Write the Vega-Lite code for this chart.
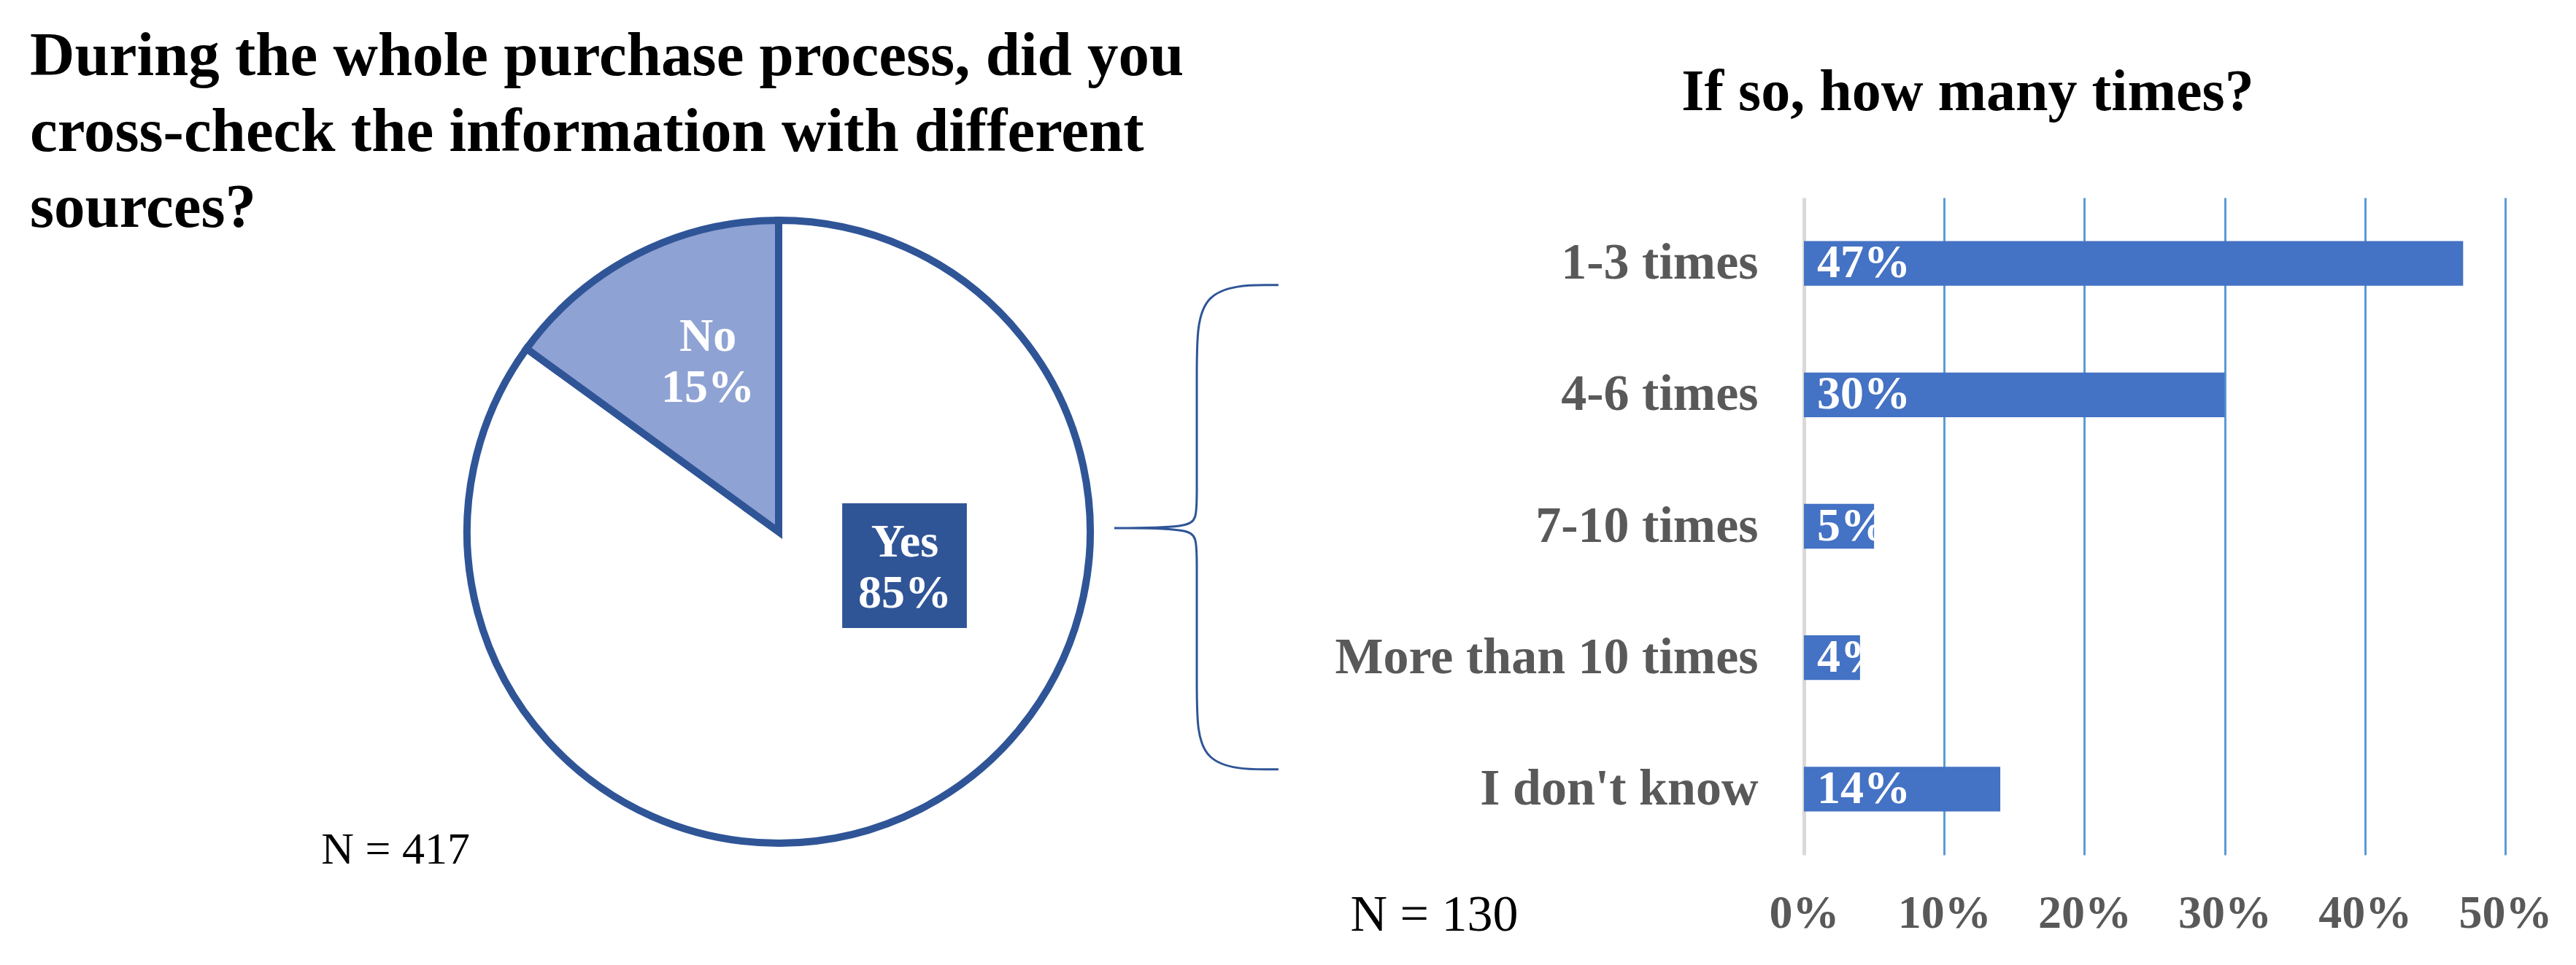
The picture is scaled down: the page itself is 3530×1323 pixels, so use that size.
{
  "$schema": "https://vega.github.io/schema/vega-lite/v6.json",
  "padding": {"left": 41, "top": 35, "right": 10, "bottom": 10},
  "background": "white",
  "config": {"font": "Liberation Serif", "view": {"stroke": null}},
  "spacing": 379,
  "bounds": "flush",
  "datasets": {
    "pie": [{"answer": "Yes", "share": 0.85}, {"answer": "No", "share": 0.15}],
    "bars": [
      {"times": "1-3 times", "share": 0.47},
      {"times": "4-6 times", "share": 0.30},
      {"times": "7-10 times", "share": 0.05},
      {"times": "More than 10 times", "share": 0.04},
      {"times": "I don't know", "share": 0.14}
    ],
    "brace": [
      {"k": 0, "bx": 1.604, "by": 0.792},
      {"k": 1, "bx": 1.342, "by": 0.792},
      {"k": 2, "bx": 1.342, "by": 0.534},
      {"k": 3, "bx": 1.342, "by": 0.066},
      {"k": 4, "bx": 1.342, "by": 0.012},
      {"k": 5, "bx": 1.077, "by": 0.012},
      {"k": 6, "bx": 1.077, "by": 0.012},
      {"k": 7, "bx": 1.077, "by": 0.012},
      {"k": 8, "bx": 1.342, "by": 0.012},
      {"k": 9, "bx": 1.342, "by": -0.042},
      {"k": 10, "bx": 1.342, "by": -0.520},
      {"k": 11, "bx": 1.342, "by": -0.763},
      {"k": 12, "bx": 1.604, "by": -0.763}
    ],
    "notes": [{"note": "N = 417"}]
  },
  "hconcat": [
    {
      "width": 2052,
      "height": 916,
      "title": {
        "text": ["During the whole purchase process, did you", "cross-check the information with different", "sources?"],
        "anchor": "start",
        "frame": "group",
        "fontSize": 85,
        "fontWeight": "bold",
        "lineHeight": 104,
        "baseline": "alphabetic",
        "offset": -125,
        "color": "black",
        "font": "Liberation Serif"
      },
      "layer": [
        {
          "data": {"name": "pie"},
          "mark": {"type": "arc", "radius": 427, "stroke": "#2F5597", "strokeWidth": 10},
          "encoding": {
            "theta": {"field": "share", "type": "quantitative", "stack": true},
            "order": {"field": "answer", "type": "ordinal", "sort": "descending"},
            "color": {"field": "answer", "type": "nominal", "scale": {"domain": ["Yes", "No"], "range": ["#FFFFFF", "#8FA2D4"]}, "legend": null}
          }
        },
        {
          "data": {"name": "brace"},
          "mark": {"type": "line", "interpolate": "basis", "stroke": "#2F5597", "strokeWidth": 3},
          "encoding": {
            "x": {"field": "bx", "type": "quantitative", "scale": {"domain": [-2.4028, 2.4028], "nice": false, "zero": false}, "axis": null},
            "y": {"field": "by", "type": "quantitative", "scale": {"domain": [-1.0726, 1.0726], "nice": false, "zero": false}, "axis": null},
            "order": {"field": "k", "type": "quantitative"}
          }
        },
        {
          "data": {"name": "pie"},
          "transform": [{"filter": "datum.answer === 'Yes'"}],
          "mark": {"type": "rect", "fill": "#2F5597"},
          "encoding": {
            "x": {"datum": 0.204, "type": "quantitative"},
            "x2": {"datum": 0.604},
            "y": {"datum": 0.0913, "type": "quantitative"},
            "y2": {"datum": -0.309}
          }
        },
        {
          "data": {"name": "pie"},
          "transform": [
            {"filter": "datum.answer === 'Yes'"},
            {"calculate": "[datum.answer, format(datum.share, '.0%')]", "as": "label"}
          ],
          "mark": {"type": "text", "color": "white", "fontSize": 64, "fontWeight": "bold", "lineHeight": 70, "align": "center", "baseline": "alphabetic"},
          "encoding": {
            "x": {"datum": 0.405, "type": "quantitative"},
            "y": {"datum": -0.0796, "type": "quantitative"},
            "text": {"field": "label"}
          }
        },
        {
          "data": {"name": "pie"},
          "transform": [
            {"filter": "datum.answer === 'No'"},
            {"calculate": "[datum.answer, format(datum.share, '.0%')]", "as": "label"}
          ],
          "mark": {"type": "text", "color": "white", "fontSize": 64, "fontWeight": "bold", "lineHeight": 70, "align": "center", "baseline": "alphabetic"},
          "encoding": {
            "x": {"datum": -0.227, "type": "quantitative"},
            "y": {"datum": 0.581, "type": "quantitative"},
            "text": {"field": "label"}
          }
        },
        {
          "data": {"name": "notes"},
          "mark": {"type": "text", "color": "black", "fontSize": 62, "align": "left", "baseline": "alphabetic"},
          "encoding": {
            "x": {"datum": -1.468, "type": "quantitative"},
            "y": {"datum": -1.0656, "type": "quantitative"},
            "text": {"field": "note"}
          }
        }
      ]
    },
    {
      "width": 961,
      "height": 901,
      "data": {"name": "bars"},
      "title": {
        "text": "If so, how many times?",
        "anchor": "middle",
        "frame": "group",
        "dx": -256,
        "offset": 40,
        "baseline": "alphabetic",
        "fontSize": 80,
        "fontWeight": "bold",
        "color": "black",
        "font": "Liberation Serif"
      },
      "encoding": {
        "y": {
          "field": "times",
          "type": "nominal",
          "sort": null,
          "scale": {"paddingInner": 0.66, "paddingOuter": 0.33},
          "axis": {"title": null, "domain": false, "ticks": false, "labelPadding": 63, "labelFontSize": 70, "labelFontWeight": "bold", "labelColor": "#595959", "labelLimit": 1000}
        }
      },
      "layer": [
        {
          "mark": {"type": "bar", "color": "#4472C4"},
          "encoding": {
            "x": {
              "field": "share",
              "type": "quantitative",
              "scale": {"domain": [0, 0.5], "nice": false},
              "axis": {
                "format": ".0%",
                "values": [0, 0.1, 0.2, 0.3, 0.4, 0.5],
                "grid": true,
                "gridColor": {"condition": {"test": "datum.value === 0", "value": "#D9D9D9"}, "value": "#5B9BD5"},
                "gridWidth": {"condition": {"test": "datum.value === 0", "value": 5}, "value": 3},
                "gridOpacity": 1,
                "domain": false,
                "ticks": false,
                "labelPadding": 48,
                "labelFontSize": 64,
                "labelFontWeight": "bold",
                "labelColor": "#595959",
                "labelFlush": false,
                "labelOverlap": false,
                "title": "N = 130",
                "titleX": -622,
                "titleY": 103,
                "titleAlign": "left",
                "titleAnchor": "start",
                "titleBaseline": "alphabetic",
                "titleFontSize": 70,
                "titleFontWeight": "normal",
                "titleColor": "black"
              }
            }
          }
        },
        {
          "mark": {"type": "text", "color": "white", "align": "left", "baseline": "middle", "dx": 18, "fontSize": 64, "fontWeight": "bold"},
          "encoding": {
            "x": {"datum": 0, "type": "quantitative"},
            "text": {"field": "share", "type": "quantitative", "format": ".0%"}
          }
        }
      ]
    }
  ]
}
